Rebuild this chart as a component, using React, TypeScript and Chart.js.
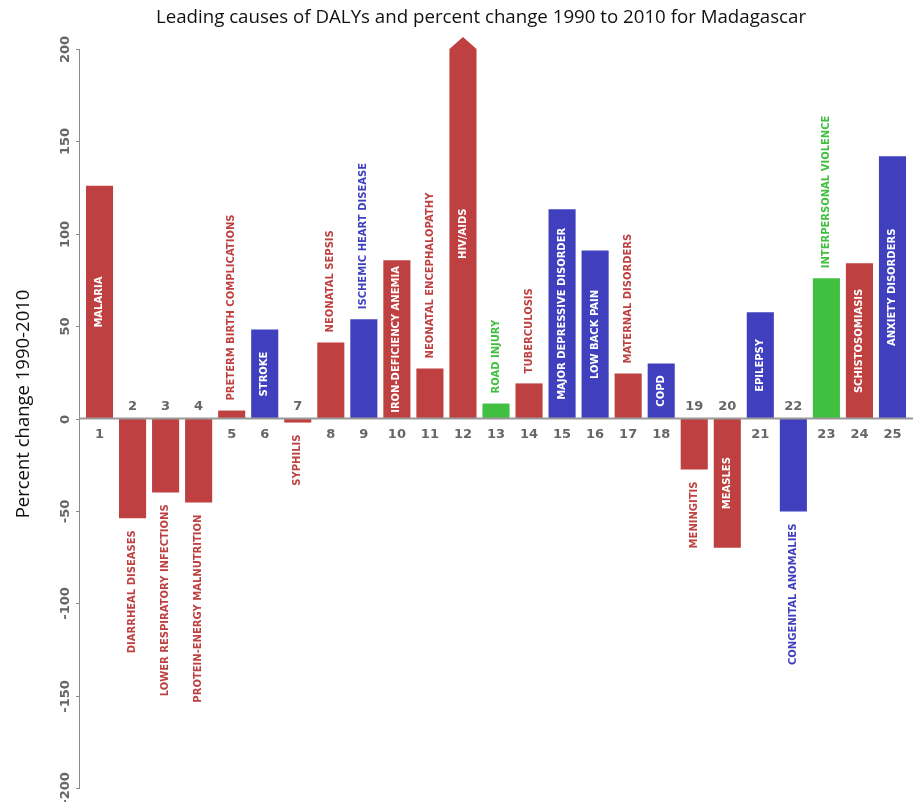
import React, { useEffect, useRef } from "react";
import { Chart, registerables } from "chart.js";

Chart.register(...registerables);

const TITLE = "Leading causes of DALYs and percent change 1990 to 2010 for Madagascar";
const Y_TITLE = "Percent change 1990-2010";

const ranks = ["1","2","3","4","5","6","7","8","9","10","11","12","13","14","15","16","17","18","19","20","21","22","23","24","25"];

const causes = [
  "MALARIA",
  "DIARRHEAL DISEASES",
  "LOWER RESPIRATORY INFECTIONS",
  "PROTEIN-ENERGY MALNUTRITION",
  "PRETERM BIRTH COMPLICATIONS",
  "STROKE",
  "SYPHILIS",
  "NEONATAL SEPSIS",
  "ISCHEMIC HEART DISEASE",
  "IRON-DEFICIENCY ANEMIA",
  "NEONATAL ENCEPHALOPATHY",
  "HIV/AIDS",
  "ROAD INJURY",
  "TUBERCULOSIS",
  "MAJOR DEPRESSIVE DISORDER",
  "LOW BACK PAIN",
  "MATERNAL DISORDERS",
  "COPD",
  "MENINGITIS",
  "MEASLES",
  "EPILEPSY",
  "CONGENITAL ANOMALIES",
  "INTERPERSONAL VIOLENCE",
  "SCHISTOSOMIASIS",
  "ANXIETY DISORDERS",
];

const percentChange = [
  126, -54, -40, -45.5, 4.3, 48.2, -2.2, 41.2, 53.7, 85.6, 27.1, 230, 8.1, 19,
  113.3, 91, 24.4, 29.8, -27.6, -70, 57.5, -50.4, 75.9, 84, 142,
];

// c = communicable/maternal/neonatal, n = non-communicable, i = injuries
const groups = [
  "c","c","c","c","c","n","c","c","n","c","c","c","i","c",
  "n","n","c","n","c","c","n","n","i","c","n",
];

const yTicks = [200, 150, 100, 50, 0, -50, -100, -150, -200];

const GROUP_COLORS: Record<string, string> = {
  c: "rgb(191,64,64)",
  n: "rgb(64,64,191)",
  i: "rgb(64,191,64)",
};

const Y_MIN = -200;
const Y_MAX = 200;

const customDraw = {
  id: "customDraw",
  afterDatasetsDraw(chart: any) {
    const ctx = chart.ctx as CanvasRenderingContext2D;
    const area = chart.chartArea;
    const yScale = chart.scales.y;
    const meta = chart.getDatasetMeta(0);
    const zeroY = yScale.getPixelForValue(0);
    const axisX = area.left - 4;

    ctx.save();
    // overflow arrows
    meta.data.forEach((bar: any, i: number) => {
      const v = percentChange[i];
      if (v > Y_MAX) {
        const half = bar.width / 2;
        ctx.fillStyle = GROUP_COLORS[groups[i]];
        ctx.beginPath();
        ctx.moveTo(bar.x - half, area.top);
        ctx.lineTo(bar.x, area.top - 12);
        ctx.lineTo(bar.x + half, area.top);
        ctx.closePath();
        ctx.fill();
      }
    });

    // y axis line
    ctx.strokeStyle = "#8a8a8a";
    ctx.lineWidth = 1;
    ctx.beginPath();
    ctx.moveTo(axisX + 0.5, yScale.getPixelForValue(Y_MAX));
    ctx.lineTo(axisX + 0.5, yScale.getPixelForValue(Y_MIN));
    ctx.stroke();

    // ticks + tick labels
    ctx.fillStyle = "#666";
    ctx.font = "bold 13px 'DejaVu Sans'";
    yTicks.forEach((t) => {
      const py = Math.round(yScale.getPixelForValue(t)) + 0.5;
      ctx.beginPath();
      ctx.moveTo(axisX - 3, py);
      ctx.lineTo(axisX + 1, py);
      ctx.stroke();
      ctx.save();
      ctx.translate(axisX - 13, py);
      ctx.rotate(-Math.PI / 2);
      ctx.textAlign = "center";
      ctx.textBaseline = "middle";
      ctx.fillText(String(t), 0, 0);
      ctx.restore();
    });

    // zero line
    ctx.strokeStyle = "#9a9a9a";
    ctx.lineWidth = 2;
    ctx.beginPath();
    ctx.moveTo(axisX, zeroY);
    ctx.lineTo(area.right + 4, zeroY);
    ctx.stroke();

    // rank numbers
    ctx.fillStyle = "#666";
    ctx.font = "bold 13px 'DejaVu Sans'";
    ctx.textAlign = "center";
    ctx.textBaseline = "middle";
    meta.data.forEach((bar: any, i: number) => {
      const v = percentChange[i];
      const py = v >= 0 ? zeroY + 16 : zeroY - 12;
      ctx.fillText(ranks[i], bar.x, py);
    });

    // cause labels
    ctx.font = "bold 10px 'DejaVu Sans'";
    meta.data.forEach((bar: any, i: number) => {
      const v = percentChange[i];
      const label = causes[i];
      const tw = ctx.measureText(label).width;
      const topY = Math.max(Math.min(bar.y, bar.base), area.top);
      const botY = Math.min(Math.max(bar.y, bar.base), area.bottom);
      const len = botY - topY;
      ctx.save();
      if (tw + 8 < len) {
        ctx.fillStyle = "#fff";
        ctx.translate(bar.x, (topY + botY) / 2);
        ctx.rotate(-Math.PI / 2);
        ctx.textAlign = "center";
        ctx.textBaseline = "middle";
        ctx.fillText(label, 0, 0);
      } else {
        ctx.fillStyle = GROUP_COLORS[groups[i]];
        ctx.textBaseline = "middle";
        if (v >= 0) {
          ctx.translate(bar.x, topY - 10);
          ctx.rotate(-Math.PI / 2);
          ctx.textAlign = "left";
        } else {
          ctx.translate(bar.x, botY + 12);
          ctx.rotate(-Math.PI / 2);
          ctx.textAlign = "right";
        }
        ctx.fillText(label, 0, 0);
      }
      ctx.restore();
    });

    // title
    ctx.fillStyle = "#111";
    ctx.font = "18.7px 'Open Sans'";
    ctx.textAlign = "center";
    ctx.textBaseline = "middle";
    ctx.fillText(TITLE, 481, 18);

    // y title
    ctx.font = "18.5px 'Open Sans'";
    ctx.save();
    ctx.translate(24, 404);
    ctx.rotate(-Math.PI / 2);
    ctx.fillText(Y_TITLE, 0, 0);
    ctx.restore();

    ctx.restore();
  },
};

export default function App() {
  const ref = useRef<HTMLCanvasElement>(null);

  useEffect(() => {
    if (!ref.current) return;
    const chart = new Chart(ref.current, {
      type: "bar",
      data: {
        labels: ranks,
        datasets: [
          {
            data: percentChange,
            backgroundColor: groups.map((g) => GROUP_COLORS[g]),
            borderWidth: 0,
            barPercentage: 0.82,
            categoryPercentage: 1,
          },
        ],
      },
      options: {
        animation: false,
        responsive: false,
        devicePixelRatio: 1,
        layout: { padding: { left: 83, top: 49, right: 8, bottom: 14 } },
        plugins: {
          legend: { display: false },
          tooltip: { enabled: false },
          title: { display: false },
        },
        scales: {
          x: { display: false, offset: true },
          y: { display: false, min: Y_MIN, max: Y_MAX },
        },
      },
      plugins: [customDraw],
    });
    return () => chart.destroy();
  }, []);

  return (
    <div style={{ position: "absolute", left: 0, top: 0, width: 917, height: 802, background: "#fff" }}>
      <canvas ref={ref} width={917} height={802} style={{ display: "block" }} />
    </div>
  );
}
